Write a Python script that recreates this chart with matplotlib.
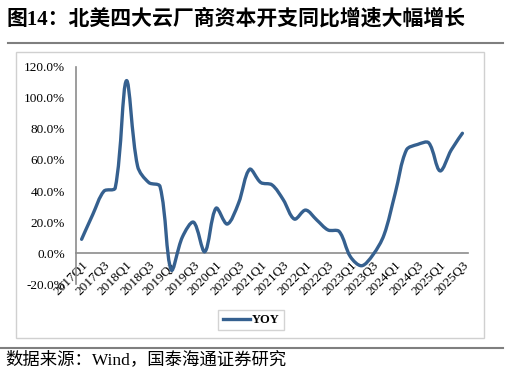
import matplotlib
matplotlib.use("Agg")
import matplotlib.pyplot as plt
from matplotlib.path import Path
from matplotlib.patches import PathPatch, Rectangle
from matplotlib.lines import Line2D

plt.rcParams['font.family'] = ['Liberation Serif', 'Noto Sans CJK SC', 'DejaVu Sans']

quarters = [f"{y}Q{q}" for y in range(2017, 2026) for q in range(1, 5)][:35]
yoy = [9, 25, 40, 42, 111, 56, 45.5, 43, -10.7, 10.5, 20, 1,
       29, 18.8, 32, 54, 45.5, 44, 34.5, 22, 27.8, 21.4, 15, 14,
       -2.2, -8, -1.1, 11.8, 38.6, 66.4, 70, 71, 53, 66.4, 77.2]
yticks = [-20, 0, 20, 40, 60, 80, 100, 120]

W, H = 510, 373
fig = plt.figure(figsize=(W / 100, H / 100), dpi=100)
ax = fig.add_axes([76 / W, 1 - 284.4 / H, (468 - 76) / W, (284.4 - 66.7) / H])

color = '#35608F'
n = len(yoy)
xs = list(range(n))
ax.set_xlim(-0.5, n - 0.5)
ax.set_ylim(-20, 120)

# smoothed line through the data points (tangent scaled by segment lengths in pixels)
sx, sy = 392 / 35, 217.7 / 140  # pixels per unit
def dist(a, b):
    return (((xs[b] - xs[a]) * sx) ** 2 + ((yoy[b] - yoy[a]) * sy) ** 2) ** 0.5
cin, cout = [], []
for i in range(n):
    if i == 0 or i == n - 1:
        cin.append((xs[i], yoy[i]))
        cout.append((xs[i], yoy[i]))
        continue
    tx = xs[i + 1] - xs[i - 1]
    ty = yoy[i + 1] - yoy[i - 1]
    dp, dn = dist(i - 1, i), dist(i, i + 1)
    fp, fn = dp / (dp + dn) / 3, dn / (dp + dn) / 3
    cin.append((xs[i] - tx * fp, yoy[i] - ty * fp))
    cout.append((xs[i] + tx * fn, yoy[i] + ty * fn))
verts = [(xs[0], yoy[0])]
codes = [Path.MOVETO]
for i in range(n - 1):
    verts += [cout[i], cin[i + 1], (xs[i + 1], yoy[i + 1])]
    codes += [Path.CURVE4] * 3
ax.add_patch(PathPatch(Path(verts, codes), facecolor='none', edgecolor=color,
                       lw=2.4, capstyle='round', joinstyle='round', zorder=3))

for s in ['top', 'right']:
    ax.spines[s].set_visible(False)
ax.spines['bottom'].set_position(('data', 0))
ax.spines['bottom'].set_color('#8C8C8C')
ax.spines['bottom'].set_linewidth(1.2)
ax.spines['left'].set_color('#8C8C8C')
ax.spines['left'].set_linewidth(1.2)
ax.patch.set_alpha(0)

ax.set_yticks(yticks)
ax.set_yticklabels([f"{v:.1f}%" for v in yticks], fontsize=9.5)
ax.set_xticks(xs[::2])
ax.set_xticklabels(quarters[::2], rotation=45, ha='right', va='top',
                   rotation_mode='anchor', fontsize=9.5)
ax.tick_params(axis='both', length=0)
ax.tick_params(axis='y', pad=8)
ax.tick_params(axis='x', pad=4)

handle = Line2D([], [], color=color, lw=2.4)
leg = fig.legend([handle], ['YOY'], loc='center', bbox_to_anchor=(251 / W, 1 - 320 / H),
                 frameon=True, fancybox=False, handlelength=2.2, handletextpad=0.1,
                 borderpad=0.35, prop={'family': 'Liberation Serif', 'weight': 'bold', 'size': 9})
leg.get_frame().set_edgecolor('#C8C8C8')
leg.get_frame().set_linewidth(1.0)

# chart area border
fig.patches.append(Rectangle((16 / W, 1 - 338 / H), (484 - 16) / W, (338 - 52) / H,
                             transform=fig.transFigure, fill=False, edgecolor='#D0D0D0', lw=1.0))
# title and rules
fig.text(7 / W, 1 - 19.5 / H, "图14：北美四大云厂商资本开支同比增速大幅增长", fontsize=15,
         fontweight='bold', ha='left', va='center')
fig.add_artist(Line2D([8 / W, 503 / W], [1 - 42.7 / H] * 2, color='#7F7F7F', lw=1.5))
fig.add_artist(Line2D([0 / W, 503 / W], [1 - 347.7 / H] * 2, color='#7F7F7F', lw=1.5))
fig.text(5 / W, 1 - 360 / H, "数据来源：Wind，国泰海通证券研究", fontsize=12.5,
         ha='left', va='center')

fig.savefig('out.png', dpi=100)
